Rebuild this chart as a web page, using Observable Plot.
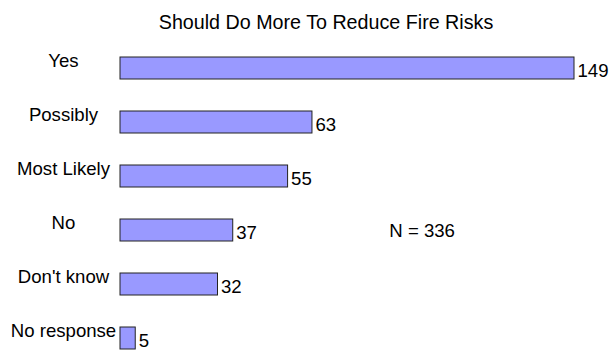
<!DOCTYPE html>
<html>
<head>
<meta charset="utf-8">
<script src="https://cdn.jsdelivr.net/npm/d3@7"></script>
<script src="https://cdn.jsdelivr.net/npm/@observablehq/plot@0.6"></script>
<style>
  html, body { margin: 0; padding: 0; background: #fff; }
  body { width: 609px; height: 356px; overflow: hidden; font-family: "Liberation Sans", Arial, sans-serif; }
  #title { height: 44px; line-height: 44px; font-size: 19.7px; color: #000; text-align: center; padding-left: 43px; box-sizing: border-box; white-space: nowrap; }
</style>
</head>
<body>
<div id="title"></div>
<div id="chart"></div>
<script>
const title = "Should Do More To Reduce Fire Risks";
const categories = ["Yes", "Possibly", "Most Likely", "No", "Don't know", "No response"];
const counts = [149, 63, 55, 37, 32, 5];
const nNote = "N = 336";
const nNoteAt = {value: 99, category: "No"};

document.getElementById("title").textContent = title;
const data = categories.map((c, i) => ({category: c, value: counts[i]}));

const chart = Plot.plot({
  width: 609,
  height: 312,
  marginLeft: 120,
  marginRight: 35,
  marginTop: 10.5,
  marginBottom: 4.5,
  style: {fontFamily: "'Liberation Sans', Arial, sans-serif", fontSize: "18.6px", background: "#fff", color: "#000"},
  x: {domain: [0, 149], axis: null},
  y: {domain: categories, paddingInner: 0.6, paddingOuter: 0, axis: null},
  marks: [
    Plot.barX(data, {x: "value", y: "category", fill: "#9999ff", stroke: "#222", strokeWidth: 1}),
    Plot.text(data, {x: "value", y: "category", text: d => String(d.value), textAnchor: "start", dx: 3, dy: 3, fontSize: 18.6, fill: "#000"}),
    Plot.text(data, {y: "category", text: "category", frameAnchor: "left", textAnchor: "middle", dx: -57, dy: -7, fontSize: 18.6, fill: "#000"}),
    Plot.text([nNoteAt], {x: "value", y: "category", text: () => nNote, textAnchor: "middle", dy: 1, fontSize: 18.6, fill: "#000"})
  ]
});
document.getElementById("chart").appendChild(chart);
</script>
</body>
</html>
